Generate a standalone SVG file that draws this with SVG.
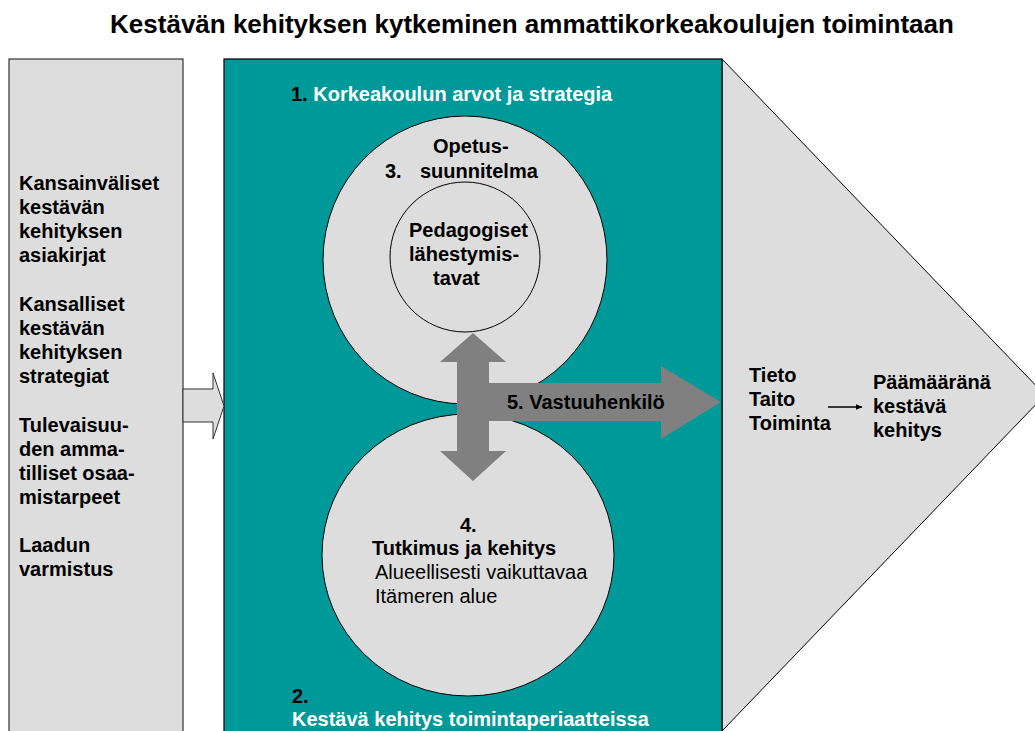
<svg xmlns="http://www.w3.org/2000/svg" width="1035" height="731" viewBox="0 0 1035 731">
<style>
text{font-family:"Liberation Sans",Arial,sans-serif;font-size:20px;fill:#000}
.b{font-weight:bold}
.w{fill:#fff}
.gray{fill:#dddddd;stroke:#000;stroke-width:1}
.arr{fill:#808080;stroke:none}
</style>
<defs>
<marker id="ah" viewBox="0 0 10 10" refX="9" refY="5" markerWidth="7" markerHeight="7" markerUnits="userSpaceOnUse" orient="auto">
<path d="M0,1 L10,5 L0,9 z" fill="#000"/>
</marker>
</defs>
<rect width="1035" height="731" fill="#fff"/>
<text id="title" class="b" x="532" y="33" text-anchor="middle" style="font-size:26px">Kestävän kehityksen kytkeminen ammattikorkeakoulujen toimintaan</text>

<g id="drivers">
<rect x="9" y="59" width="174" height="690" fill="#dddddd" stroke="#333" stroke-width="1.2"/>
<text class="b" x="19" y="190">Kansainväliset</text>
<text class="b" x="19" y="214">kestävän</text>
<text class="b" x="19" y="238">kehityksen</text>
<text class="b" x="19" y="262">asiakirjat</text>
<text class="b" x="19" y="311">Kansalliset</text>
<text class="b" x="19" y="335">kestävän</text>
<text class="b" x="19" y="359">kehityksen</text>
<text class="b" x="19" y="383">strategiat</text>
<text class="b" x="19" y="432">Tulevaisuu-</text>
<text class="b" x="19" y="456">den amma-</text>
<text class="b" x="19" y="480">tilliset osaa-</text>
<text class="b" x="19" y="504">mistarpeet</text>
<text class="b" x="19" y="552">Laadun</text>
<text class="b" x="19" y="576">varmistus</text>
</g>

<g id="outcome">
<polygon class="gray" points="722,59 1045,395 722,731"/>
<text class="b" x="749" y="382">Tieto</text>
<text class="b" x="749" y="406">Taito</text>
<text class="b" x="749" y="430">Toiminta</text>
<text class="b" x="873" y="389">Päämääränä</text>
<text class="b" x="873" y="413">kestävä</text>
<text class="b" x="873" y="437">kehitys</text>
</g>

<g id="institution">
<rect x="224" y="59" width="498" height="690" fill="#009999" stroke="#000" stroke-width="1.2"/>
<text class="b" x="291" y="101">1. <tspan class="w">Korkeakoulun arvot ja strategia</tspan></text>
<text class="b" x="292" y="703">2.</text>
<text class="b w" x="292" y="726">Kestävä kehitys toimintaperiaatteissa</text>
</g>

<g id="curriculum">
<ellipse class="gray" cx="465" cy="260" rx="142" ry="144"/>
<text class="b" x="433" y="153">Opetus-</text>
<text class="b" x="385" y="178">3.</text>
<text class="b" x="420" y="178">suunnitelma</text>
</g>

<g id="pedagogy">
<circle class="gray" cx="465" cy="257" r="75"/>
<text class="b" x="409" y="237">Pedagogiset</text>
<text class="b" x="409" y="261">lähestymis-</text>
<text class="b" x="433" y="285">tavat</text>
</g>

<g id="research">
<ellipse class="gray" cx="468" cy="555" rx="146" ry="141"/>
<text class="b" x="460" y="532">4.</text>
<text class="b" x="372" y="555">Tutkimus ja kehitys</text>
<text x="375" y="579">Alueellisesti vaikuttavaa</text>
<text x="375" y="603">Itämeren alue</text>
</g>

<g id="connectors">
<polygon id="input-arrow" points="183,389 213,389 213,373 224,406 213,439 213,422 183,422" fill="#dddddd" stroke="#333" stroke-width="1"/>
<polygon id="responsible-arrow" class="arr" points="473,333 506,362 489,362 489,383 661,383 661,366 721,402 661,439 661,421 489,421 489,451 506,451 473,481 440,451 457,451 457,362 440,362"/>
<line id="goal-arrow" x1="828" y1="407" x2="862" y2="407" stroke="#000" stroke-width="1.3" marker-end="url(#ah)"/>
</g>

<g id="responsible">
<text class="b" x="507" y="409">5. Vastuuhenkilö</text>
</g>
</svg>
